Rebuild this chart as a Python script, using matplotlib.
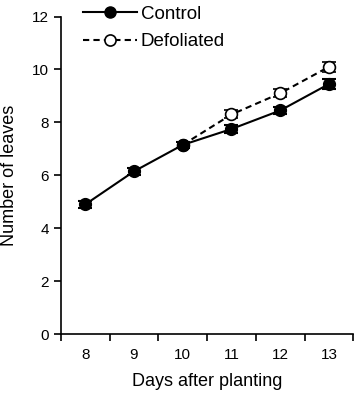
import matplotlib
matplotlib.use("Agg")
import matplotlib.pyplot as plt
from matplotlib.lines import Line2D

plt.rcParams['font.family'] = ['Liberation Sans', 'DejaVu Sans']

days = [8, 9, 10, 11, 12, 13]
control = [4.9, 6.15, 7.15, 7.75, 8.45, 9.45]
control_err = [0.12, 0.12, 0.12, 0.15, 0.15, 0.18]
defol_days = [10, 11, 12, 13]
defoliated = [7.15, 8.3, 9.1, 10.1]
defol_err = [0.12, 0.15, 0.15, 0.18]

fig = plt.figure(figsize=(3.54, 3.94), dpi=100)
ax = fig.add_axes([0.172, 0.152, 0.826, 0.806])

ax.errorbar(defol_days, defoliated, yerr=defol_err, color='black', ls='--', lw=1.5,
            marker='o', mfc='white', mec='black', ms=8.5, mew=1.2,
            capsize=5, capthick=1.5, elinewidth=1.5, dashes=(3, 2), zorder=2)
ax.errorbar(days, control, yerr=control_err, color='black', ls='-', lw=1.5,
            marker='o', mfc='black', mec='black', ms=8.5,
            capsize=5, capthick=1.5, elinewidth=1.5, zorder=3)

ax.set_xlim(7.5, 13.5)
ax.set_ylim(0, 12)
ax.set_yticks(range(0, 13, 2))
ax.set_xticks([7.5, 8.5, 9.5, 10.5, 11.5, 12.5, 13.5])
ax.set_xticklabels([])
ax.set_xticks(days, minor=True)
ax.set_xticklabels([str(d) for d in days], minor=True)
ax.tick_params(axis='x', which='minor', length=0, labelsize=11, pad=10)
ax.tick_params(axis='x', which='major', length=5, width=1.2)
ax.tick_params(axis='y', length=5, width=1.2, labelsize=11)

for s in ['top', 'right']:
    ax.spines[s].set_visible(False)
for s in ['left', 'bottom']:
    ax.spines[s].set_linewidth(1.2)

ax.set_xlabel('Days after planting', fontsize=13, labelpad=8)
ax.set_ylabel('Number of leaves', fontsize=13, labelpad=10)

handles = [
    Line2D([], [], color='black', ls='-', lw=1.5, marker='o', mfc='black', ms=8),
    Line2D([], [], color='black', ls='--', lw=1.5, dashes=(3, 2), marker='o',
           mfc='white', mec='black', ms=8, mew=1.2),
]
fig.legend(handles, ['Control', 'Defoliated'], loc='upper left', bbox_to_anchor=(0.234, 0.985),
           frameon=False, fontsize=13.5, handlelength=2.9, handletextpad=0.2,
           labelspacing=0.55, borderpad=0, borderaxespad=0)

fig.savefig('out.png', dpi=100)
